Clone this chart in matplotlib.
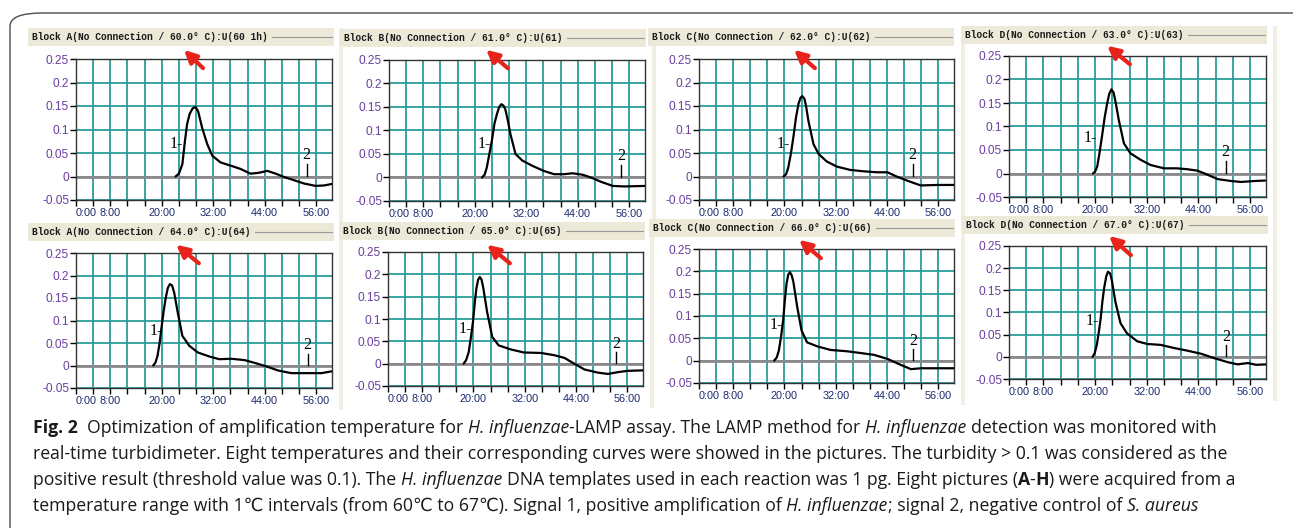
import numpy as np
import matplotlib.pyplot as plt
from matplotlib.patches import FancyBboxPatch, Rectangle, FancyArrowPatch

# turbidity curves: time (min) and turbidity, one pair per temperature
t60 = [23.2, 24.0, 24.8, 25.4, 25.9, 26.5, 27.2, 27.9, 28.5, 29.4, 30.6, 31.8, 33.7, 36.1, 38.4, 40.7, 42.7, 44.6, 46.6, 48.5, 50.9, 53.2, 55.9, 57.9, 59.6]
v60 = [0.0, 0.006, 0.026, 0.075, 0.111, 0.133, 0.145, 0.148, 0.138, 0.104, 0.069, 0.044, 0.030, 0.023, 0.016, 0.006, 0.008, 0.012, 0.006, -0.001, -0.008, -0.015, -0.020, -0.019, -0.016]
t61 = [21.7, 22.3, 22.8, 23.4, 24.0, 24.6, 25.2, 25.7, 26.2, 26.7, 27.1, 27.7, 28.3, 29.5, 31.1, 33.4, 36.1, 38.5, 40.8, 42.8, 45.1, 47.1, 49.4, 52.2, 54.9, 59.6]
v61 = [0.0, 0.006, 0.021, 0.050, 0.079, 0.115, 0.136, 0.150, 0.156, 0.153, 0.146, 0.122, 0.093, 0.050, 0.036, 0.025, 0.014, 0.007, 0.007, 0.009, 0.006, 0.0, -0.009, -0.018, -0.019, -0.018]
t62 = [19.8, 20.4, 20.9, 21.5, 22.1, 22.7, 23.3, 23.8, 24.2, 24.7, 25.1, 25.6, 26.8, 28.0, 29.9, 32.3, 35.4, 38.6, 41.7, 44.1, 46.0, 48.8, 51.9, 55.8, 59.7]
v62 = [0.0, 0.005, 0.019, 0.048, 0.084, 0.125, 0.155, 0.168, 0.171, 0.165, 0.148, 0.119, 0.069, 0.048, 0.032, 0.021, 0.014, 0.011, 0.009, 0.009, 0.001, -0.009, -0.019, -0.018, -0.018]
t63 = [19.5, 20.0, 20.5, 21.0, 21.6, 22.2, 22.8, 23.3, 23.8, 24.3, 24.8, 25.5, 26.7, 28.2, 30.6, 32.9, 36.0, 39.1, 41.5, 43.8, 45.7, 48.5, 51.6, 53.9, 57.0, 59.5]
v63 = [0.0, 0.004, 0.015, 0.042, 0.079, 0.118, 0.149, 0.170, 0.179, 0.172, 0.150, 0.114, 0.064, 0.043, 0.029, 0.018, 0.011, 0.011, 0.009, 0.006, -0.001, -0.012, -0.016, -0.018, -0.016, -0.015]
t64 = [18.0, 18.5, 19.0, 19.5, 19.9, 20.4, 20.9, 21.4, 21.9, 22.4, 22.9, 23.7, 24.8, 26.4, 28.4, 31.1, 33.4, 36.2, 39.3, 41.6, 44.4, 47.1, 50.2, 54.1, 57.2, 59.6]
v64 = [0.0, 0.006, 0.021, 0.050, 0.081, 0.118, 0.149, 0.172, 0.181, 0.178, 0.162, 0.119, 0.066, 0.044, 0.029, 0.020, 0.014, 0.015, 0.012, 0.006, -0.002, -0.011, -0.017, -0.017, -0.017, -0.013]
t65 = [17.7, 18.3, 18.9, 19.4, 19.9, 20.3, 20.7, 21.1, 21.5, 21.9, 22.3, 23.2, 24.4, 25.9, 28.7, 31.8, 35.8, 38.9, 41.3, 43.6, 46.0, 49.1, 51.5, 53.8, 56.2, 59.7]
v65 = [0.0, 0.008, 0.026, 0.058, 0.094, 0.135, 0.169, 0.188, 0.194, 0.188, 0.170, 0.116, 0.060, 0.041, 0.032, 0.025, 0.024, 0.019, 0.013, 0.0, -0.013, -0.020, -0.023, -0.019, -0.016, -0.015]
t66 = [17.6, 18.2, 18.7, 19.2, 19.7, 20.1, 20.5, 20.9, 21.3, 21.7, 22.1, 23.0, 24.0, 25.3, 27.7, 30.8, 34.7, 37.9, 41.0, 44.1, 46.9, 49.6, 52.0, 59.8]
v66 = [0.0, 0.007, 0.023, 0.053, 0.090, 0.135, 0.173, 0.193, 0.198, 0.191, 0.176, 0.120, 0.068, 0.041, 0.032, 0.024, 0.021, 0.017, 0.013, 0.004, -0.008, -0.019, -0.017, -0.017]
t67 = [19.4, 19.9, 20.4, 20.9, 21.3, 21.7, 22.1, 22.6, 23.0, 23.5, 23.9, 24.7, 25.9, 27.4, 29.8, 32.1, 35.2, 38.3, 41.4, 44.6, 47.7, 50.8, 53.1, 55.5, 57.4, 59.8]
v67 = [0.0, 0.008, 0.027, 0.058, 0.087, 0.125, 0.155, 0.182, 0.192, 0.188, 0.172, 0.125, 0.076, 0.053, 0.035, 0.029, 0.027, 0.020, 0.014, 0.007, -0.003, -0.012, -0.017, -0.014, -0.018, -0.017]

times = [t60, t61, t62, t63, t64, t65, t66, t67]
values = [v60, v61, v62, v63, v64, v65, v66, v67]
temps = [60, 61, 62, 63, 64, 65, 66, 67]
blocks = ["A", "B", "C", "D", "A", "B", "C", "D"]
runs = ["60 1h", "61", "62", "63", "64", "65", "66", "67"]

# where the "1-" and "2" signal labels sit (time, turbidity)
lab1_t = [24.9, 23.7, 21.2, 20.5, 20.4, 19.7, 19.7, 20.8]
lab1_v = [0.069, 0.071, 0.069, 0.075, 0.077, 0.077, 0.079, 0.081]
lab2_t = [53.8, 54.1, 50.0, 50.3, 54.0, 53.4, 50.2, 50.4]

xtick_pos = [0, 8, 20, 32, 44, 56]
xtick_lab = ["0:00", "8:00", "20:00", "32:00", "44:00", "56:00"]
ytick_pos = [-0.05, 0, 0.05, 0.1, 0.15, 0.2, 0.25]
ytick_lab = ["-0.05", "0", "0.05", "0.1", "0.15", "0.2", "0.25"]

# caption, split into (text, style) runs: r = regular, i = italic, b = bold
cap1 = [("Fig. 2", "b"), ("  Optimization of amplification temperature for ", "r"), ("H. influenzae", "i"),
        ("-LAMP assay. The LAMP method for ", "r"), ("H. influenzae", "i"), (" detection was monitored with", "r")]
cap2 = [("real-time turbidimeter. Eight temperatures and their corresponding curves were showed in the pictures. The turbidity > 0.1 was considered as the", "r")]
cap3 = [("positive result (threshold value was 0.1). The ", "r"), ("H. influenzae", "i"),
        (" DNA templates used in each reaction was 1 pg. Eight pictures (", "r"), ("A", "b"), ("-", "r"),
        ("H", "b"), (") were acquired from a", "r")]
cap4 = [("temperature range with 1℃ intervals (from 60℃ to 67℃). Signal 1, positive amplification of ", "r"),
        ("H. influenzae", "i"), ("; signal 2, negative control of ", "r"), ("S. aureus", "i")]

W, H = 1293, 528
fig = plt.figure(figsize=(W / 100, H / 100), dpi=100)

def fx(x):
    return x / W

def fy(y):
    return 1 - y / H

# outer rounded frame (runs off the right and bottom)
fig.patches.append(FancyBboxPatch((fx(10), fy(560)), fx(1320), 560 / H - 13 / H,
                                  boxstyle="round,pad=0,rounding_size=0.025",
                                  transform=fig.transFigure, fill=False,
                                  ec="#4d4d4d", lw=1.0, zorder=0))

# pixel layout of each panel: axes box, header text, arrow
ax_boxes = [(76, 59, 332, 200), (389, 60, 645, 201), (699, 59, 954, 200), (1009, 56, 1266, 197),
            (76, 253, 332, 388), (388, 252, 643, 386), (699, 249, 954, 383), (1009, 246, 1266, 379)]
heads = [(32, 37), (344, 38), (652, 37), (965, 35), (32, 232), (343, 231), (653, 228), (966, 225)]
arrows = [((205, 70), (182, 48)), ((510, 70), (484, 48)), ((817, 70), (792, 48)), ((1132, 66), (1105, 44)),
          ((201, 265), (174, 243)), ((512, 265), (485, 243)), ((823, 260), (797, 238)), ((1133, 257), (1107, 234))]

beige = "#ece9d8"
grid_c = "#2a9c9a"

for i in range(8):
    l, t, r, b = ax_boxes[i]
    hx, hy = heads[i]

    # header band and right-hand frame strip
    fig.patches.append(Rectangle((fx(hx - 4), fy(hy + 9)), 306 / W, 18 / H,
                                 transform=fig.transFigure, fc=beige, ec="none", zorder=1))
    fig.patches.append(Rectangle((fx(r + 7), fy(b + 22)), 4 / W, (b + 22 - hy + 9) / H,
                                 transform=fig.transFigure, fc="#f1efe4", ec="none", zorder=1))
    label = "Block %s(No Connection / %.1f° C):U(%s)" % (blocks[i], temps[i], runs[i])
    fig.text(fx(hx), fy(hy), label, family="Liberation Mono", fontsize=6.9, weight="bold",
             color="#1a1a1a", ha="left", va="center", zorder=3)
    x_end = hx + len(label) * 6.9 * 100 / 72 * 0.6 + 4
    fig.add_artist(plt.Line2D([fx(x_end), fx(hx + 300)], [fy(hy), fy(hy)],
                              transform=fig.transFigure, color="#9a9a9a", lw=0.8, zorder=3))

    ax = fig.add_axes([fx(l), fy(b), (r - l) / W, (b - t) / H])
    ax.set_xlim(0, 59.7)
    ax.set_ylim(-0.05, 0.25)
    ax.set_xticks(np.arange(0, 57, 4))
    ax.set_xticklabels([xtick_lab[xtick_pos.index(v)] if v in xtick_pos else "" for v in range(0, 57, 4)])
    ax.set_yticks(ytick_pos)
    ax.set_yticklabels(ytick_lab)
    ax.grid(True, color=grid_c, lw=1.3)
    ax.set_axisbelow(True)
    ax.tick_params(axis="x", length=4, width=1, labelsize=7.8, labelcolor="#1c2a6e", pad=2)
    ax.tick_params(axis="y", length=4, width=1, labelsize=8.6, labelcolor="#6a3e9e", pad=1)
    for lab in ax.get_xticklabels() + ax.get_yticklabels():
        lab.set_family("Liberation Sans")
    ax.get_xticklabels()[0].set_ha("left")
    for s in ax.spines.values():
        s.set_color("#333333")
        s.set_linewidth(1.0)

    ax.axhline(0, color="#8a8a8a", lw=2.0, zorder=2.5)
    ax.plot(times[i], values[i], color="black", lw=1.6, zorder=3, solid_capstyle="round",
            solid_joinstyle="round")

    ax.text(lab1_t[i], lab1_v[i], "1-", family="Liberation Serif", fontsize=11.5,
            ha="right", va="center", zorder=4)
    ax.text(lab2_t[i], 0.045, "2", family="Liberation Serif", fontsize=11.5,
            ha="center", va="center", zorder=4)
    ax.plot([lab2_t[i], lab2_t[i]], [0.002, 0.026], color="black", lw=1.0, zorder=4)

    (x0, y0), (x1, y1) = arrows[i]
    fig.patches.append(FancyArrowPatch((fx(x0), fy(y0)), (fx(x1), fy(y1)), transform=fig.transFigure,
                                       arrowstyle="-|>", mutation_scale=18, lw=3.0,
                                       color="#e8231c", zorder=5))

# caption, laid out run by run
renderer = fig.canvas.get_renderer()
cap_fs = 12.7
fam = ["Open Sans", "DejaVu Sans"]
styles = {"r": dict(style="normal", weight="normal"),
          "i": dict(style="italic", weight="normal"),
          "b": dict(style="normal", weight="bold")}

def width_of(s, st):
    tt = fig.text(0, 0, s, family=fam, fontsize=cap_fs, **styles[st])
    w = tt.get_window_extent(renderer).width
    tt.remove()
    return w

space_w = width_of("n n", "r") - width_of("nn", "r")

def draw_runs(x, yb, runs_):
    for s, st in runs_:
        lead = len(s) - len(s.lstrip(" "))
        trail = len(s) - len(s.rstrip(" "))
        core = s.strip(" ")
        x += lead * space_w
        if core:
            tt = fig.text(fx(x), fy(yb), core, family=fam, fontsize=cap_fs, color="#1a1a1a",
                          ha="left", va="baseline", **styles[st])
            x += tt.get_window_extent(renderer).width
        x += trail * space_w

for runs_, yb in zip([cap1, cap2, cap3, cap4], [433, 459, 485, 511]):
    draw_runs(33, yb, runs_)

fig.savefig("out.png", dpi=100)
